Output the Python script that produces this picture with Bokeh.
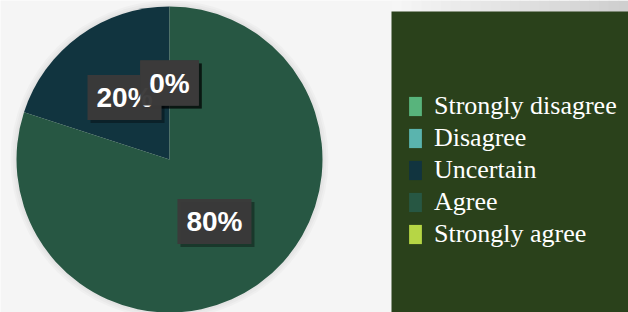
import numpy as np
from bokeh.plotting import figure
from bokeh.models import ColumnDataSource, Range1d, CDSView, BooleanFilter
from bokeh.core.properties import value
from bokeh.embed import file_html
from bokeh.resources import INLINE

categories = ["Strongly disagree", "Disagree", "Uncertain", "Agree", "Strongly agree"]
values = [0, 0, 20, 80, 0]
pct_labels = ["0%", "0%", "20%", "80%", "0%"]
colors = ["#58b47c", "#5ab4ae", "#11343f", "#275743", "#b6d645"]

W, H = 628, 312
cx, cy, R = 169, 153, 153

vals = np.array(values, dtype=float)
frac = vals / vals.sum()
start = np.pi / 2 + 2 * np.pi * np.concatenate([[0], np.cumsum(frac)[:-1]])
end = start + 2 * np.pi * frac
mid = (start + end) / 2

src = ColumnDataSource(dict(
    cat=categories, start=start, end=end, color=colors, label=pct_labels,
    lx=cx + 0.5 * R * np.cos(mid), ly=cy + 0.5 * R * np.sin(mid),
    sx=cx + 0.5 * R * np.cos(mid) + 3, sy=cy + 0.5 * R * np.sin(mid) - 3,
))

p = figure(width=W, height=H, x_range=Range1d(0, W), y_range=Range1d(0, H),
           output_backend="svg", toolbar_location=None, min_border=0,
           x_axis_type=None, y_axis_type=None)
p.outline_line_color = None
p.background_fill_color = "#f5f5f5"
p.border_fill_color = "#f5f5f5"
p.grid.visible = False

# background gradient strip at top right
n = 24
gx = np.linspace(391, W, n + 1)
gshade = np.linspace(0xf6, 0xcf, n).astype(int)
p.quad(left=gx[:-1], right=gx[1:] + 0.5, bottom=295, top=H,
       fill_color=["#%02x%02x%02x" % (g, g, g) for g in gshade], line_color=None)

# soft halo around the pie
for dr in (2, 4, 6):
    p.circle(x=[cx], y=[cy], radius=R + dr, fill_color="black", fill_alpha=0.025, line_color=None)

# legend panel
p.quad(left=[391], right=[W], bottom=[0], top=[301], fill_color="#2a411b", line_color=None)

p.wedge(x=cx, y=cy, radius=R, start_angle="start", end_angle="end",
        fill_color="color", line_color=None, source=src,
        view=CDSView(filter=BooleanFilter([v > 0 for v in values])))

# legend proxy (off-screen)
p.quad(left=-50, right=-40, bottom=-50, top=-40, fill_color="color", line_color=None,
       legend_field="cat", source=src)

pad = dict(left=9, right=9, top=7, bottom=7)
p.text(x="sx", y="sy", text="label", source=src, text_align="center", text_baseline="middle",
       text_font=value("Liberation Sans"), text_font_style="bold", text_font_size="28px",
       text_alpha=0, background_fill_color="black", background_fill_alpha=0.35, padding=pad)
p.text(x="lx", y="ly", text="label", source=src, text_align="center", text_baseline="middle",
       text_font=value("Liberation Sans"), text_font_style="bold", text_font_size="28px",
       text_color="white", background_fill_color="#3b3a3a", background_fill_alpha=0.97, padding=pad)

lg = p.legend[0]
lg.location = (407, 63)
lg.background_fill_alpha = 0
lg.border_line_color = None
lg.padding = 0
lg.margin = 0
lg.spacing = 2
lg.glyph_width = 16
lg.glyph_height = 24
lg.label_height = 24
lg.label_standoff = 11
lg.label_text_color = "white"
lg.label_text_font = "Liberation Serif"
lg.label_text_font_size = "26px"

open("out.html", "w").write(file_html(p, INLINE))
